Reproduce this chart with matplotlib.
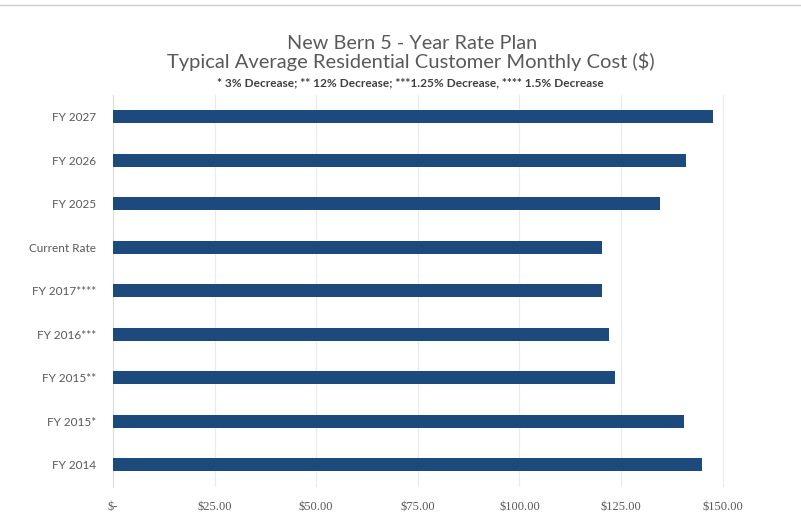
import matplotlib.pyplot as plt
from matplotlib.ticker import FuncFormatter

# monthly cost per period, bottom to top
labels = ['FY 2014', 'FY 2015*', 'FY 2015**', 'FY 2016***', 'FY 2017****',
          'Current Rate', 'FY 2025', 'FY 2026', 'FY 2027']
costs = [144.8, 140.6, 123.6, 122.1, 120.4, 120.4, 134.5, 140.9, 147.6]
xticks = [0, 25, 50, 75, 100, 125, 150]

plt.rcParams['font.family'] = ['Lato', 'DejaVu Sans']
grey = '#595959'

fig = plt.figure(figsize=(8.01, 5.21), dpi=100)
ax = fig.add_axes([0.141, 0.066, 0.812, 0.752])

ax.barh(range(len(labels)), costs, height=0.3, color='#1d4a7c', zorder=3)
ax.set_ylim(-0.5, len(labels) - 0.5)
ax.set_xlim(0, 160)
ax.set_yticks(range(len(labels)))
ax.set_yticklabels(labels, fontsize=8.5, color=grey)
ax.set_xticks(xticks)
ax.xaxis.set_major_formatter(FuncFormatter(
    lambda v, p: '$-' if v == 0 else '${:,.2f}'.format(v)))
ax.tick_params(axis='x', labelsize=9, labelcolor=grey, length=0, pad=10)
for t in ax.get_xticklabels():
    t.set_family(['Liberation Serif', 'DejaVu Serif'])
ax.tick_params(axis='y', length=0, pad=12)
ax.grid(axis='x', color='#ebebef', linewidth=0.9, zorder=0)

for s in ['top', 'right', 'bottom']:
    ax.spines[s].set_visible(False)
ax.spines['left'].set_color('#dcdcdc')

fig.text(0.515, 0.917, 'New Bern 5 - Year Rate Plan', ha='center', va='center',
         fontsize=14.3, color=grey)
fig.text(0.513, 0.881, 'Typical Average Residential Customer Monthly Cost ($)',
         ha='center', va='center', fontsize=14.5, color=grey)
fig.text(0.512, 0.841, '* 3% Decrease; ** 12% Decrease; ***1.25% Decrease, **** 1.5% Decrease',
         ha='center', va='center', fontsize=8.6, fontweight='bold', color='#404040')

fig.add_artist(plt.Line2D([0, 1], [0.99, 0.99], color='#d0d0d0', linewidth=1.0))

fig.savefig('out.png', dpi=100)
